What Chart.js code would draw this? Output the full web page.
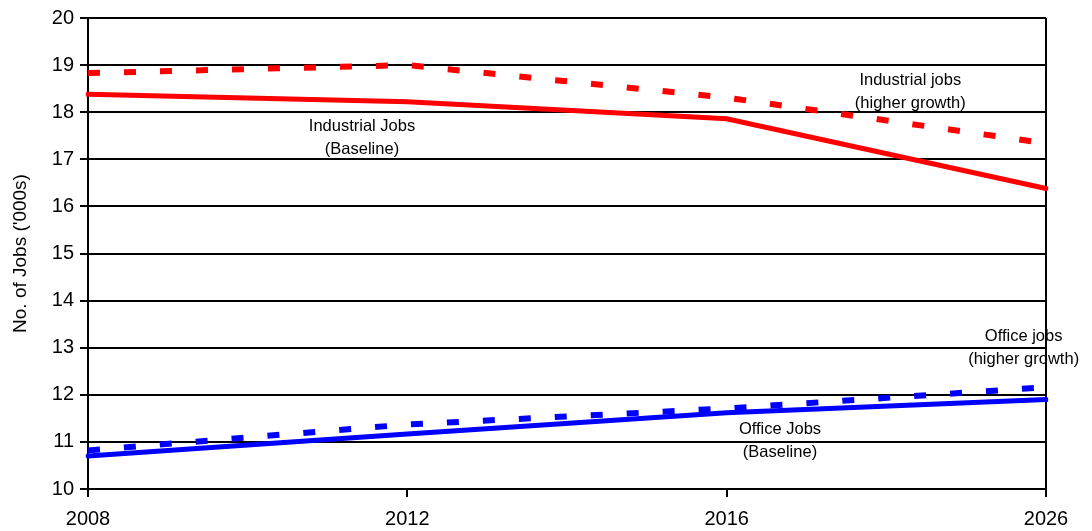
<!DOCTYPE html>
<html>
<head>
<meta charset="utf-8">
<script src="https://cdn.jsdelivr.net/npm/chart.js@4"></script>
<style>
  html, body { margin: 0; padding: 0; background: #fff; }
  #wrap { width: 1092px; height: 531px; }
</style>
</head>
<body>
<div id="wrap"><canvas id="jobsChart"></canvas></div>
<script>
// Datos ('000s de empleos)
const years = ['2008', '2012', '2016', '2026'];
const industrialHigher = [18.83, 19.0, 18.31, 17.34];
const industrialBase   = [18.38, 18.22, 17.86, 16.38];
const officeHigher     = [10.82, 11.37, 11.71, 12.16];
const officeBase       = [10.70, 11.17, 11.62, 11.90];
const yTicks = [10, 20]; // min, max

// Etiquetas dentro del gráfico (x = índice de categoría, y = valor)
const notes = [
  { lines: ['Industrial Jobs', '(Baseline)'],      x: 0.858, y: 17.46 },
  { lines: ['Industrial jobs', '(higher growth)'], x: 2.575, y: 18.43 },
  { lines: ['Office jobs', '(higher growth)'],     x: 2.93,  y: 13.0 },
  { lines: ['Office Jobs', '(Baseline)'],          x: 2.167, y: 11.02 }
];

const FONT = "'Liberation Sans', Arial, sans-serif";

const notesPlugin = {
  id: 'notes',
  afterDatasetsDraw(chart) {
    const { ctx, scales: { x, y } } = chart;
    ctx.save();
    ctx.fillStyle = '#000';
    ctx.font = '16.5px ' + FONT;
    ctx.textAlign = 'center';
    ctx.textBaseline = 'middle';
    notes.forEach(n => {
      const x0 = x.getPixelForValue(0);
      const x1 = x.getPixelForValue(1);
      const px = x0 + (x1 - x0) * n.x;
      const py = y.getPixelForValue(n.y);
      ctx.fillText(n.lines[0], px, py - 11.5);
      ctx.fillText(n.lines[1], px, py + 11.5);
    });
    ctx.restore();
  }
};

const line = (data, color, dashed) => ({
  data,
  borderColor: color,
  borderWidth: dashed ? 6 : 5,
  borderDash: dashed ? [12, 24] : [],
  borderCapStyle: dashed ? 'butt' : 'round',
  pointRadius: 0,
  tension: 0,
  fill: false
});

new Chart(document.getElementById('jobsChart'), {
  type: 'line',
  data: {
    labels: years,
    datasets: [
      line(industrialHigher, '#ff0000', true),
      line(officeHigher, '#0000ff', true),
      line(industrialBase, '#ff0000', false),
      line(officeBase, '#0000ff', false)
    ]
  },
  options: {
    responsive: true,
    maintainAspectRatio: false,
    animation: false,
    layout: { padding: { top: 16, right: 46, left: 0, bottom: 0 } },
    plugins: { legend: { display: false }, tooltip: { enabled: false } },
    scales: {
      x: {
        offset: false,
        grid: {
          drawOnChartArea: true,
          color: ctx => ctx.index === years.length - 1 ? '#000' : 'rgba(0,0,0,0)',
          tickColor: '#000',
          lineWidth: 2,
          tickLength: 8
        },
        border: { color: '#000', width: 2 },
        ticks: { color: '#000', font: { size: 20, family: FONT }, padding: 10, maxRotation: 0 },
        afterFit: s => { s.height = 42; }
      },
      y: {
        min: yTicks[0],
        max: yTicks[1],
        grid: { color: '#000', lineWidth: 2, tickLength: 8 },
        border: { color: '#000', width: 2 },
        ticks: { stepSize: 1, color: '#000', font: { size: 20, family: FONT }, padding: 6 },
        title: {
          display: true,
          text: "No. of Jobs ('000s)",
          color: '#000',
          font: { size: 19, family: FONT },
          padding: { top: 9, bottom: 0 }
        },
        afterFit: s => { s.width = 88; }
      }
    }
  },
  plugins: [notesPlugin]
});
</script>
</body>
</html>
